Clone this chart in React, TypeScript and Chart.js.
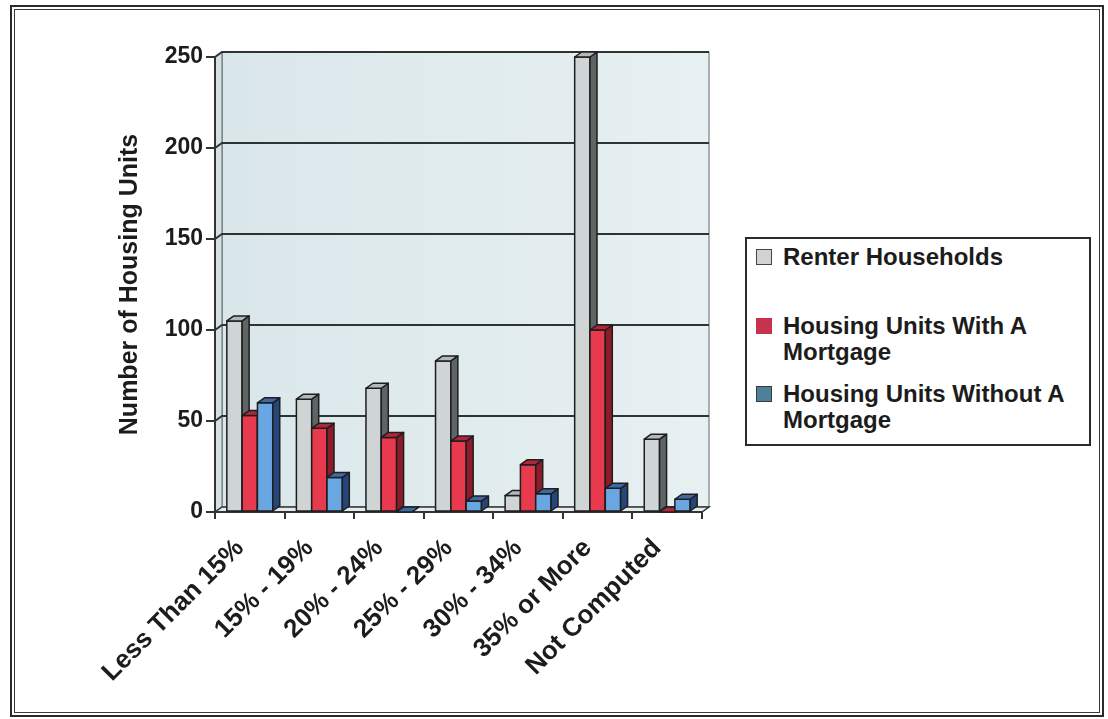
import React, { useEffect, useRef } from "react";
import { Chart, registerables } from "chart.js";

Chart.register(...registerables);

const categories = ["Less Than 15%", "15% - 19%", "20% - 24%", "25% - 29%", "30% - 34%", "35% or More", "Not Computed"];
const renterHouseholds = [105, 62, 68, 83, 9, 250, 40];
const withMortgage = [53, 46, 41, 39, 26, 100, 0];
const withoutMortgage = [60, 19, 0, 6, 10, 13, 7];
const seriesNames = ["Renter Households", "Housing Units With A Mortgage", "Housing Units Without A Mortgage"];
const yTicks = [0, 50, 100, 150, 200, 250];

const FONT = "'Liberation Sans', Arial, sans-serif";
const DX = 7;
const DY = 5;
const faces = [
  { front: "#cfd4d5", side: "#5f6465", cap: "#b3b9ba" },
  { front: "#e73a4e", side: "#8e1b2a", cap: "#b3263a" },
  { front: "#6aa7e2", side: "#24467a", cap: "#3d6aa5" },
];
const OUTLINE = "#1e1e1e";

const bar3d = {
  id: "bar3d",
  beforeDraw(chart: any) {
    const { ctx, chartArea } = chart;
    const ys = chart.scales.y;
    const { left, right, bottom } = chartArea;
    const top = ys.getPixelForValue(250);
    ctx.save();
    const g = ctx.createLinearGradient(left, 0, right, 0);
    g.addColorStop(0, "#dae7ea");
    g.addColorStop(1, "#e7f0f2");
    ctx.fillStyle = g;
    ctx.fillRect(left + DX, top - DY, right - left, bottom - top);
    ctx.strokeStyle = "#666";
    ctx.lineWidth = 1;
    ctx.strokeRect(left + DX, top - DY, right - left, bottom - top);
    ctx.fillStyle = "#d4e1e4";
    ctx.beginPath();
    ctx.moveTo(left, top);
    ctx.lineTo(left + DX, top - DY);
    ctx.lineTo(left + DX, bottom - DY);
    ctx.lineTo(left, bottom);
    ctx.closePath();
    ctx.fill();
    ctx.stroke();
    ctx.fillStyle = "#e4ecee";
    ctx.beginPath();
    ctx.moveTo(left, bottom);
    ctx.lineTo(right, bottom);
    ctx.lineTo(right + DX, bottom - DY);
    ctx.lineTo(left + DX, bottom - DY);
    ctx.closePath();
    ctx.fill();
    ctx.strokeStyle = "#333";
    ctx.lineWidth = 1.5;
    ctx.stroke();
    ctx.strokeStyle = "#2e3434";
    ctx.lineWidth = 2;
    yTicks.forEach((v) => {
      if (v === 0) return;
      const py = ys.getPixelForValue(v);
      ctx.beginPath();
      ctx.moveTo(left, py);
      ctx.lineTo(left + DX, py - DY);
      ctx.lineTo(right + DX, py - DY);
      ctx.stroke();
    });
    ctx.restore();
  },
  afterDatasetsDraw(chart: any) {
    const ctx = chart.ctx;
    ctx.save();
    ctx.lineWidth = 1.5;
    ctx.strokeStyle = OUTLINE;
    ctx.lineJoin = "round";
    chart.data.datasets.forEach((_ds: any, di: number) => {
      const meta = chart.getDatasetMeta(di);
      const f = faces[di];
      meta.data.forEach((bar: any) => {
        const { x, y, base, width } = bar.getProps(["x", "y", "base", "width"], true);
        const l = x - width / 2;
        const r = x + width / 2;
        ctx.fillStyle = f.front;
        ctx.beginPath();
        ctx.rect(l, y, r - l, base - y);
        ctx.fill();
        if (base - y > 0.5) ctx.stroke();
        ctx.fillStyle = f.side;
        ctx.beginPath();
        ctx.moveTo(r, y);
        ctx.lineTo(r + DX, y - DY);
        ctx.lineTo(r + DX, base - DY);
        ctx.lineTo(r, base);
        ctx.closePath();
        ctx.fill();
        ctx.stroke();
        ctx.fillStyle = f.cap;
        ctx.beginPath();
        ctx.moveTo(l, y);
        ctx.lineTo(l + DX, y - DY);
        ctx.lineTo(r + DX, y - DY);
        ctx.lineTo(r, y);
        ctx.closePath();
        ctx.fill();
        ctx.stroke();
      });
    });
    ctx.restore();
  },
};

export default function App() {
  const ref = useRef<HTMLCanvasElement | null>(null);
  useEffect(() => {
    if (!ref.current) return;
    const series = [renterHouseholds, withMortgage, withoutMortgage];
    const chart = new Chart(ref.current, {
      type: "bar",
      data: {
        labels: categories,
        datasets: series.map((d, i) => ({
          label: seriesNames[i],
          data: d,
          backgroundColor: "rgba(0,0,0,0)",
          borderWidth: 0,
          categoryPercentage: 0.66,
          barPercentage: 1.0,
        })),
      },
      options: {
        animation: false,
        responsive: false,
        maintainAspectRatio: false,
        layout: { padding: { left: 0, top: 57, right: 406, bottom: 0 } },
        plugins: { legend: { display: false }, tooltip: { enabled: false } },
        scales: {
          x: {
            offset: true,
            grid: { offset: true, drawOnChartArea: false, drawTicks: true, tickLength: 7, color: "#333", lineWidth: 2 },
            border: { display: true, color: "#333", width: 2 },
            ticks: {
              maxRotation: 45,
              minRotation: 45,
              autoSkip: false,
              padding: 14,
              labelOffset: -10,
              color: "#1c1c1c",
              font: { family: FONT, size: 26, weight: "bold" },
            },
            afterFit: (s: any) => {
              s.height = 207;
            },
          },
          y: {
            min: 0,
            max: 250,
            ticks: {
              stepSize: 50,
              padding: 3,
              color: "#1c1c1c",
              font: { family: FONT, size: 23, weight: "bold" },
            },
            grid: { drawOnChartArea: false, drawTicks: true, tickLength: 9, color: "#333", lineWidth: 2 },
            border: { display: true, color: "#333", width: 2 },
            title: {
              display: true,
              text: "Number of Housing Units",
              color: "#1c1c1c",
              font: { family: FONT, size: 25, weight: "bold" },
              padding: { top: 115, bottom: 0 },
            },
            afterFit: (s: any) => {
              s.width = 215;
            },
          },
        },
      },
      plugins: [bar3d],
    });
    return () => chart.destroy();
  }, []);

  const legendItems = [
    { top: 244, lines: ["Renter Households"], sq: { fill: "#cfd3d3", border: "#444" } },
    { top: 313, lines: ["Housing Units With A", "Mortgage"], sq: { fill: "#c7334f", border: "#c7334f" } },
    { top: 381, lines: ["Housing Units Without A", "Mortgage"], sq: { fill: "#4d8099", border: "#3a3a3a" } },
  ];

  return (
    <div style={{ position: "fixed", left: 0, top: 0, width: 1108, height: 719, background: "#fff", overflow: "hidden" }}>
      <div style={{ position: "absolute", left: 10, top: 5, width: 1094, height: 712, border: "2px solid #2a2a2a", boxSizing: "border-box" }} />
      <div style={{ position: "absolute", left: 14, top: 9, width: 1086, height: 704, border: "1.5px solid #3a3a3a", boxSizing: "border-box" }} />
      <canvas ref={ref} width={1108} height={719} style={{ position: "absolute", left: 0, top: 0 }} />
      <div style={{ position: "absolute", left: 745, top: 237, width: 346, height: 209, border: "2px solid #2a2a2a", boxSizing: "border-box", background: "#fff" }} />
      {legendItems.map((it, i) => (
        <div key={i}>
          <div style={{ position: "absolute", left: 756, top: it.top + 5, width: 16, height: 16, background: it.sq.fill, border: `1px solid ${it.sq.border}`, boxSizing: "border-box" }} />
          {it.lines.map((ln, j) => (
            <div key={j} style={{ position: "absolute", left: 783, top: it.top + j * 26, height: 26, lineHeight: "26px", fontFamily: FONT, fontWeight: "bold", fontSize: 24, color: "#1c1c1c", whiteSpace: "nowrap" }}>
              {ln}
            </div>
          ))}
        </div>
      ))}
    </div>
  );
}
